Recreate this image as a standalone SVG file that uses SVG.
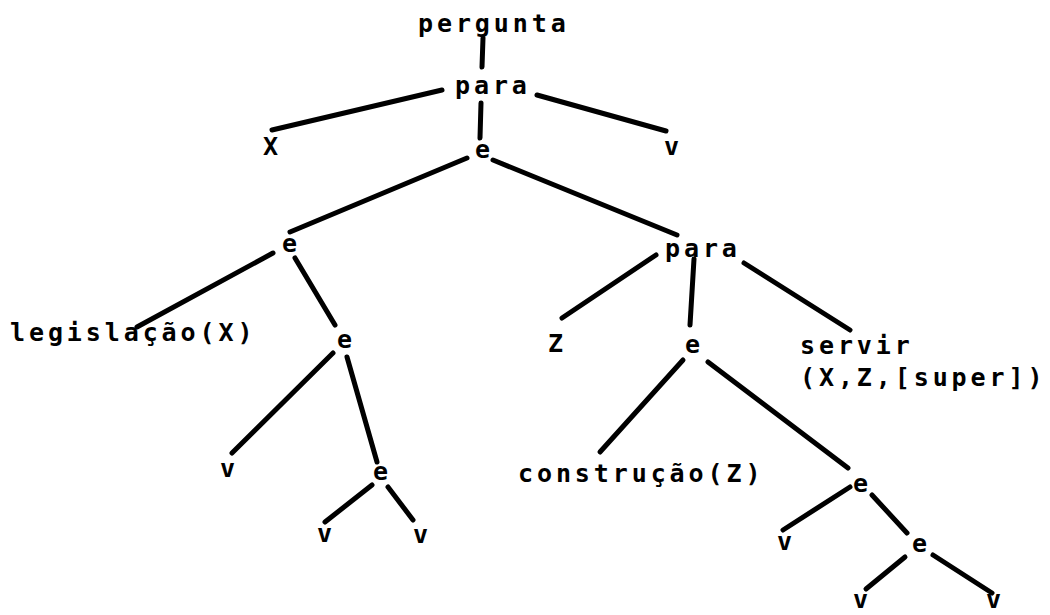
<svg xmlns="http://www.w3.org/2000/svg" width="1050" height="615" viewBox="0 0 1050 615">
  <style>
    .lbl { font-family: "DejaVu Sans Mono", "Liberation Mono", monospace; font-size: 25px; font-weight: bold; letter-spacing: 3.9px; fill: #000; }
    .edge { stroke: #000; stroke-width: 5; stroke-linecap: round; fill: none; }
  </style>
  <rect width="1050" height="615" fill="#fff"/>

  <!-- tree edges -->
  <g id="connectors">
    <line class="edge" x1="483" y1="38" x2="482" y2="67"/>
    <line class="edge" x1="442" y1="90" x2="272" y2="130"/>
    <line class="edge" x1="481" y1="103" x2="480" y2="138"/>
    <line class="edge" x1="537" y1="95" x2="666" y2="131"/>
    <line class="edge" x1="467" y1="158" x2="290" y2="232"/>
    <line class="edge" x1="493" y1="160" x2="677" y2="235"/>
    <line class="edge" x1="273" y1="253" x2="137" y2="327"/>
    <line class="edge" x1="295" y1="258" x2="335" y2="325"/>
    <line class="edge" x1="333" y1="353" x2="232" y2="453"/>
    <line class="edge" x1="347" y1="357" x2="377" y2="462"/>
    <line class="edge" x1="372" y1="485" x2="325" y2="522"/>
    <line class="edge" x1="388" y1="487" x2="413" y2="520"/>
    <line class="edge" x1="656" y1="255" x2="562" y2="318"/>
    <line class="edge" x1="694" y1="259" x2="690" y2="325"/>
    <line class="edge" x1="744" y1="263" x2="850" y2="330"/>
    <line class="edge" x1="683" y1="360" x2="600" y2="452"/>
    <line class="edge" x1="708" y1="362" x2="848" y2="468"/>
    <line class="edge" x1="850" y1="487" x2="783" y2="530"/>
    <line class="edge" x1="872" y1="495" x2="907" y2="533"/>
    <line class="edge" x1="905" y1="557" x2="866" y2="589"/>
    <line class="edge" x1="933" y1="555" x2="992" y2="593"/>
  </g>

  <!-- nodes -->
  <g id="n-pergunta"><text class="lbl" x="418" y="32">pergunta</text></g>
  <g id="n-para1"><text class="lbl" x="455" y="94">para</text></g>
  <g id="n-X"><text class="lbl" x="263" y="155">X</text></g>
  <g id="n-e1"><text class="lbl" x="475" y="158">e</text></g>
  <g id="n-v1"><text class="lbl" x="664" y="155">v</text></g>
  <g id="n-e2"><text class="lbl" x="282" y="252">e</text></g>
  <g id="n-para2"><text class="lbl" x="665" y="257">para</text></g>
  <g id="n-legislacao"><text class="lbl" x="10" y="341">legislação(X)</text></g>
  <g id="n-e3"><text class="lbl" x="337" y="348">e</text></g>
  <g id="n-Z"><text class="lbl" x="548" y="352">Z</text></g>
  <g id="n-e4"><text class="lbl" x="685" y="353">e</text></g>
  <g id="n-servir"><text class="lbl" x="800" y="354">servir<tspan x="800" dy="32">(X,Z,[super])</tspan></text></g>
  <g id="n-v2"><text class="lbl" x="220" y="477">v</text></g>
  <g id="n-e5"><text class="lbl" x="373" y="480">e</text></g>
  <g id="n-construcao"><text class="lbl" x="518" y="482">construção(Z)</text></g>
  <g id="n-e6"><text class="lbl" x="853" y="492">e</text></g>
  <g id="n-v3"><text class="lbl" x="317" y="542">v</text></g>
  <g id="n-v4"><text class="lbl" x="413" y="543">v</text></g>
  <g id="n-v5"><text class="lbl" x="777" y="550">v</text></g>
  <g id="n-e7"><text class="lbl" x="912" y="552">e</text></g>
  <g id="n-v6"><text class="lbl" x="853" y="608">v</text></g>
  <g id="n-v7"><text class="lbl" x="986" y="608">v</text></g>
</svg>
